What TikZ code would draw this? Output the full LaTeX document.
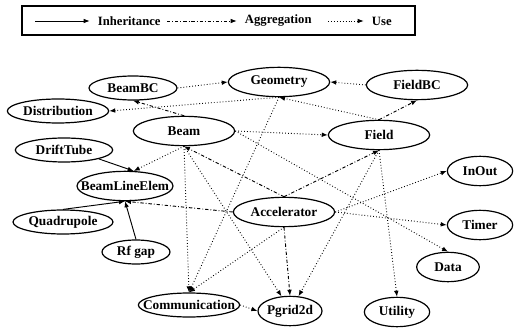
\documentclass[tikz,border=0pt]{standalone}
\usepackage{fontspec}
\setmainfont{Liberation Serif}[BoldFont={Liberation Serif Bold}]
\usetikzlibrary{shapes.geometric,arrows.meta}

\begin{document}
\begin{tikzpicture}[x=0.75pt, y=-0.75pt,
    cls/.style={draw, ellipse, line width=0.9pt, inner sep=0pt
      , minimum width=#1, minimum height=22pt
      , font=\bfseries\fontsize{10}{12}\selectfont
      , execute at begin node={\hbox to 0pt\bgroup\hss}
      , execute at end node={\hss\egroup}},
    low/.style={minimum height=18pt},
    inherit/.style={-{Latex[length=4.5pt,width=3.5pt]}, line width=0.7pt},
    aggr/.style={inherit, dash pattern=on 2.5pt off 1.5pt on 0.6pt off 1.5pt},
    use/.style={inherit, dash pattern=on 0.6pt off 1.6pt},
    lbl/.style={font=\bfseries\fontsize{9.5}{11}\selectfont, inner sep=2pt, anchor=west}
  ]
  \useasboundingbox (0,0) rectangle (516,331);

  % legend
  \node[draw, line width=0.9pt, minimum width=294.75pt, minimum height=21.75pt] (legend) at (218.5,20.5) {};
  \coordinate (ia) at (35,21);
  \node[lbl] (tinh) at (95,21) {Inheritance};
  \coordinate (aa) at (167,21);
  \node[lbl] (tagg) at (242,21) {Aggregation};
  \coordinate (ua) at (328,21);
  \node[lbl] (tuse) at (369,21) {Use};
  \path[shorten >=4pt]
  (ia) edge[inherit] (tinh)
  (aa) edge[aggr] (tagg)
  (ua) edge[use] (tuse)
  ;

  % classes
  \node[cls=66pt, low] (bbc)   at (133,88)  {BeamBC};
  \node[cls=76pt]      (geom)  at (279,82)  {Geometry};
  \node[cls=76pt]      (fbc)   at (417,85)  {FieldBC};
  \node[cls=76pt, low] (dist)  at (58,111)  {Distribution};
  \node[cls=76pt]      (beam)  at (184,131) {Beam};
  \node[cls=76pt]      (field) at (379,135) {Field};
  \node[cls=73pt, low] (drift) at (64,150)  {DriftTube};
  \node[cls=72pt]      (ble)   at (125,186) {BeamLineElem};
  \node[cls=49pt]      (inout) at (480,171) {InOut};
  \node[cls=76pt]      (acc)   at (284,212) {Accelerator};
  \node[cls=75pt, low] (quad)  at (63,222)  {Quadrupole};
  \node[cls=49pt]      (timer) at (480,225) {Timer};
  \node[cls=51pt, low] (rf)    at (136,252) {Rf gap};
  \node[cls=47pt]      (data)  at (448,267) {Data};
  \node[cls=76pt, low] (comm)  at (189,305) {Communication};
  \node[cls=48pt]      (pg)    at (290,311) {Pgrid2d};
  \node[cls=49pt]      (util)  at (397,312) {Utility};

  \path[inherit]
  (drift.south east) edge (ble.60)
  (quad.north) edge (ble.south)
  (rf.north) edge (ble.south)
  ;
  \path[aggr]
  (beam.north) edge (bbc.south)
  (field.north) edge (fbc.south)
  (acc.north) edge (beam.south)
  (acc.north) edge (field.south)
  (acc.west) edge (ble.south)
  (acc.south) edge (pg.north)
  ;
  \path[use]
  (bbc.east) edge (geom.west)
  (fbc.west) edge (geom.east)
  (geom.south) edge (dist.east)
  (field.north) edge (geom.south)
  (geom.south) edge (comm.north)
  (beam.east) edge (field.west)
  (beam.south) edge (ble.60)
  (beam.south) edge (comm.north)
  (beam.south) edge (pg.120)
  (beam.east) edge (data.north)
  (acc.south) edge (comm.north)
  (acc.east) edge (inout.west)
  (acc.east) edge (timer.west)
  (comm.east) edge (pg.west)
  (field.south) edge (pg.60)
  (field.south) edge (util.north)
  ;
\end{tikzpicture}
\end{document}
